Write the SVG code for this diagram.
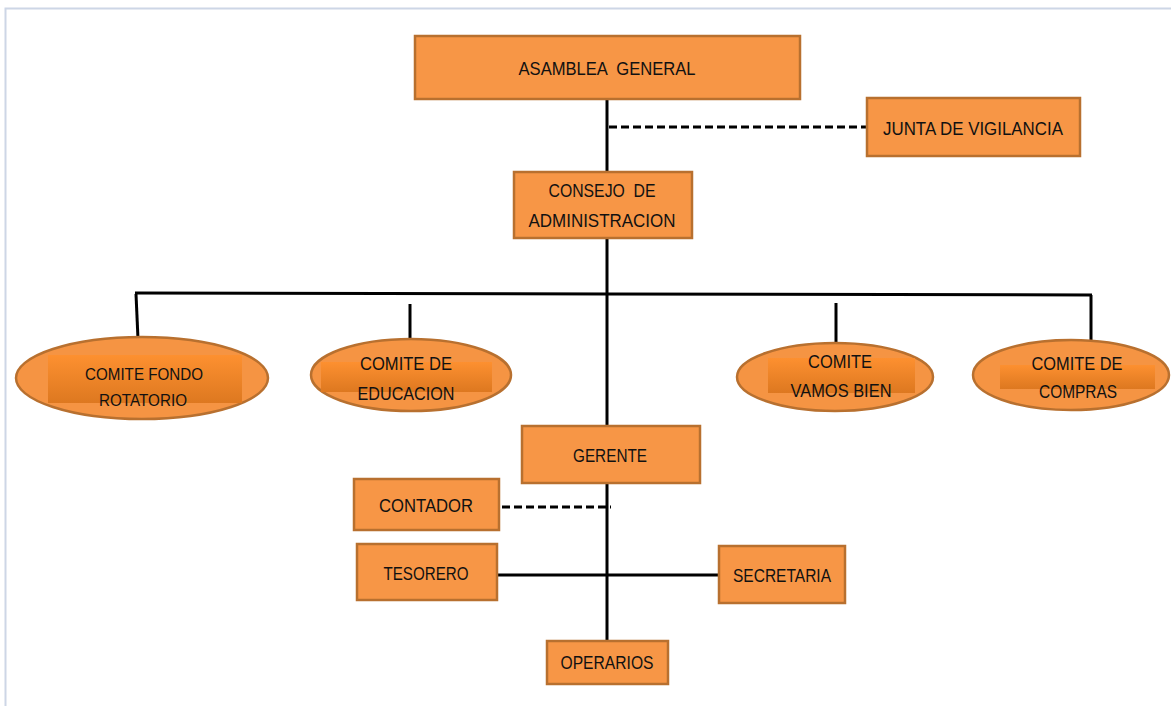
<svg xmlns="http://www.w3.org/2000/svg" width="1171" height="706" viewBox="0 0 1171 706">
  <style>
    .box { fill: #f79646; stroke: #b8702f; stroke-width: 2.5; }
    .oval { fill: #f59443; stroke: #b8702f; stroke-width: 2.5; }
    .band { fill: url(#bandGrad); }
    .lbl { font-family: "Liberation Sans", Arial, sans-serif; font-size: 18px; fill: #111; text-anchor: middle; }
    .lbl-s { font-family: "Liberation Sans", Arial, sans-serif; font-size: 17px; fill: #111; text-anchor: middle; }
    .line { stroke: #000; stroke-width: 3; fill: none; }
    .dash { stroke: #000; stroke-width: 3; fill: none; stroke-dasharray: 8 4; }
    .frame { stroke: #cdd6e6; stroke-width: 2; fill: none; }
  </style>
  <defs>
    <linearGradient id="bandGrad" x1="0" y1="0" x2="0" y2="1">
      <stop offset="0" stop-color="#fd9030"/>
      <stop offset="1" stop-color="#dd7820"/>
    </linearGradient>
  </defs>

  <rect width="1171" height="706" fill="#ffffff"/>
  <polyline class="frame" points="5.5,706 5.5,8.5 1171,8.5"/>

  <!-- connectors -->
  <g id="connectors">
    <line class="line" x1="607" y1="99" x2="607" y2="172"/>
    <line class="line" x1="607" y1="238" x2="607" y2="641"/>
    <line class="dash" x1="609" y1="127" x2="866" y2="127"/>
    <polyline class="line" points="135,293 608,294 1092,295"/>
    <line class="line" x1="136" y1="294" x2="138" y2="339"/>
    <line class="line" x1="410" y1="304" x2="410" y2="341"/>
    <line class="line" x1="836" y1="303" x2="836" y2="344"/>
    <line class="line" x1="1091" y1="295" x2="1091" y2="340"/>
    <line class="dash" x1="502" y1="507" x2="611" y2="507"/>
    <line class="line" x1="497" y1="575" x2="718" y2="575"/>
  </g>

  <g id="asamblea">
    <rect class="box" x="415" y="36" width="385" height="63"/>
    <text class="lbl" x="607" y="75" textLength="177" lengthAdjust="spacingAndGlyphs" xml:space="preserve">ASAMBLEA  GENERAL</text>
  </g>

  <g id="junta">
    <rect class="box" x="867" y="98" width="213" height="58"/>
    <text class="lbl" x="973" y="135" textLength="180" lengthAdjust="spacingAndGlyphs">JUNTA DE VIGILANCIA</text>
  </g>

  <g id="consejo">
    <rect class="box" x="514" y="172" width="178" height="66"/>
    <text class="lbl" x="602" y="197" textLength="107" lengthAdjust="spacingAndGlyphs" xml:space="preserve">CONSEJO  DE</text>
    <text class="lbl" x="602" y="227" textLength="147" lengthAdjust="spacingAndGlyphs">ADMINISTRACION</text>
  </g>

  <g id="comite-fondo">
    <ellipse class="oval" cx="142" cy="378" rx="126" ry="41"/>
    <rect class="band" x="48" y="355" width="194" height="48"/>
    <text class="lbl-s" x="144" y="380" textLength="118" lengthAdjust="spacingAndGlyphs">COMITE FONDO</text>
    <text class="lbl-s" x="143" y="406" textLength="88" lengthAdjust="spacingAndGlyphs">ROTATORIO</text>
  </g>

  <g id="comite-educacion">
    <ellipse class="oval" cx="411" cy="375" rx="100" ry="36"/>
    <rect class="band" x="321" y="362" width="171" height="30"/>
    <text class="lbl" x="406" y="370" textLength="92" lengthAdjust="spacingAndGlyphs">COMITE DE</text>
    <text class="lbl" x="406" y="400" textLength="97" lengthAdjust="spacingAndGlyphs">EDUCACION</text>
  </g>

  <g id="comite-vamos">
    <ellipse class="oval" cx="835" cy="377" rx="98" ry="34"/>
    <rect class="band" x="768" y="358" width="147" height="35"/>
    <text class="lbl" x="840" y="368" textLength="64" lengthAdjust="spacingAndGlyphs">COMITE</text>
    <text class="lbl" x="841" y="397" textLength="101" lengthAdjust="spacingAndGlyphs">VAMOS BIEN</text>
  </g>

  <g id="comite-compras">
    <ellipse class="oval" cx="1071" cy="375" rx="98" ry="35"/>
    <rect class="band" x="1000" y="365" width="155" height="24"/>
    <text class="lbl" x="1077" y="370" textLength="91" lengthAdjust="spacingAndGlyphs">COMITE DE</text>
    <text class="lbl" x="1078" y="398" textLength="78" lengthAdjust="spacingAndGlyphs">COMPRAS</text>
  </g>

  <g id="gerente">
    <rect class="box" x="522" y="426" width="178" height="57"/>
    <text class="lbl" x="610" y="462" textLength="74" lengthAdjust="spacingAndGlyphs">GERENTE</text>
  </g>

  <g id="contador">
    <rect class="box" x="354" y="479" width="145" height="51"/>
    <text class="lbl" x="426" y="512" textLength="94" lengthAdjust="spacingAndGlyphs">CONTADOR</text>
  </g>

  <g id="tesorero">
    <rect class="box" x="357" y="544" width="140" height="56"/>
    <text class="lbl" x="426" y="580" textLength="85" lengthAdjust="spacingAndGlyphs">TESORERO</text>
  </g>

  <g id="secretaria">
    <rect class="box" x="719" y="546" width="126" height="57"/>
    <text class="lbl" x="782" y="582" textLength="98" lengthAdjust="spacingAndGlyphs">SECRETARIA</text>
  </g>

  <g id="operarios">
    <rect class="box" x="547" y="641" width="121" height="43"/>
    <text class="lbl" x="607" y="669" textLength="93" lengthAdjust="spacingAndGlyphs">OPERARIOS</text>
  </g>
</svg>
